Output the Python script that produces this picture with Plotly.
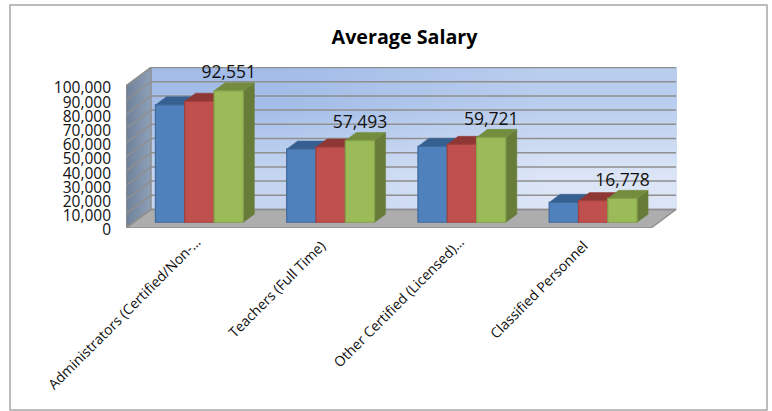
import plotly.graph_objects as go

categories = ["Administrators (Certified/Non-…", "Teachers (Full Time)",
              "Other Certified (Licensed)…", "Classified Personnel"]
series_names = ["Series 1", "Series 2", "Series 3"]
series_a = [82600, 51500, 53400, 14000]
series_b = [85200, 52900, 54800, 15200]
series_c = [92551, 57493, 59721, 16778]
tick_values = [0, 10000, 20000, 30000, 40000, 50000, 60000, 70000, 80000, 90000, 100000]

front_colors = ["#4f81bd", "#c0504d", "#9bbb59"]
line_colors = ["#40699c", "#a2403d", "#84a04a"]
top_colors = ["#376092", "#8e3735", "#738c3e"]
side_colors = ["#385d8a", "#7f3230", "#667c38"]

W, H = 772, 411
L, R, T, B = 126, 677, 67, 228
PX_CAT = 131.25
PX_VAL = 1.42 / 1000
DX = 25 / PX_CAT
DY = 18.5 / PX_VAL
XMAX = (R - L) / PX_CAT
YMAX = (B - T) / PX_VAL
BAR_W = 29.3 / PX_CAT
Z0, Z1 = 0.31, 0.75
FONT = "Open Sans"
GRID = "#8f8f8f"


def proj(x, v, z):
    return x + z * DX, v + z * DY


def poly(points):
    xs, ys = zip(*points)
    return list(xs) + [xs[0]], list(ys) + [ys[0]]


fig = go.Figure()

# back wall with diagonal gradient; cell centres chosen so the cells fill the wall exactly
wall_w = XMAX - DX
wall_h = YMAX - DY
fig.add_trace(go.Heatmap(x=[DX + wall_w / 4, DX + 3 * wall_w / 4],
                         y=[DY + wall_h / 4, DY + 3 * wall_h / 4],
                         z=[[0.6, 1.0], [0.0, 0.4]],
                         zsmooth="best", zmin=0, zmax=1, showscale=False, hoverinfo="skip",
                         colorscale=[[0, "#a3bde8"], [1, "#dbe5f6"]]))

# left wall
xs, ys = poly([proj(0, 0, 0), proj(0, 0, 1), proj(0, 100000, 1), proj(0, 100000, 0)])
fig.add_trace(go.Scatter(x=xs, y=ys, mode="lines", fill="toself", hoverinfo="skip", showlegend=False,
                         line=dict(color=GRID, width=1.5), cliponaxis=False,
                         fillgradient=dict(type="horizontal",
                                           colorscale=[[0, "#6f8099"], [1, "#8fa0b9"]])))

# floor
xs, ys = poly([proj(0, 0, 0), proj(len(categories), 0, 0), proj(len(categories), 0, 1), proj(0, 0, 1)])
fig.add_trace(go.Scatter(x=xs, y=ys, mode="lines", fill="toself", fillcolor="#adadad",
                         hoverinfo="skip", showlegend=False, cliponaxis=False,
                         line=dict(color=GRID, width=1.5)))

# gridlines: one segment on the left wall, one on the back wall
gx, gy = [], []
for v in tick_values:
    a, b, c = proj(0, v, 0), proj(0, v, 1), proj(len(categories), v, 1)
    gx += [a[0], b[0], c[0], None]
    gy += [a[1], b[1], c[1], None]
fig.add_trace(go.Scatter(x=gx, y=gy, mode="lines", hoverinfo="skip", showlegend=False, cliponaxis=False,
                         line=dict(color=GRID, width=1.5)))

all_series = [series_a, series_b, series_c]

# top and side faces of the boxes, back to front
for s, values in enumerate(all_series):
    for c, v in enumerate(values):
        x0 = c + 0.5 + (s - 1.5) * BAR_W
        x1 = x0 + BAR_W
        base = 0
        xs, ys = poly([proj(x1, base, Z0), proj(x1, base, Z1), proj(x1, v, Z1), proj(x1, v, Z0)])
        fig.add_trace(go.Scatter(x=xs, y=ys, mode="lines", fill="toself", fillcolor=side_colors[s],
                                 line=dict(color=side_colors[s], width=0.5),
                                 hoverinfo="skip", showlegend=False))
        xs, ys = poly([proj(x0, v, Z0), proj(x1, v, Z0), proj(x1, v, Z1), proj(x0, v, Z1)])
        fig.add_trace(go.Scatter(x=xs, y=ys, mode="lines", fill="toself", fillcolor=top_colors[s],
                                 line=dict(color=top_colors[s], width=0.5),
                                 hoverinfo="skip", showlegend=False))

# front faces
centers = [c + 0.5 + Z0 * DX for c in range(len(categories))]
for s, values in enumerate(all_series):
    fig.add_trace(go.Bar(x=centers, y=values, base=[Z0 * DY] * len(values), name=series_names[s],
                         width=BAR_W, offset=(s - 1.5) * BAR_W, xaxis="x2", yaxis="y2",
                         marker=dict(color=front_colors[s], line=dict(color=line_colors[s], width=1.2)),
                         showlegend=False))

# value labels above the third series
fig.add_trace(go.Scatter(x=[c + BAR_W for c in centers],
                         y=[v + Z1 * DY for v in series_c],
                         text=[f"{v:,}" for v in series_c], mode="text", textposition="top center",
                         textfont=dict(family=FONT, size=17.5, color="#111111"),
                         xaxis="x2", yaxis="y2", hoverinfo="skip", showlegend=False, cliponaxis=False))

cat_font = dict(family=FONT, size=14, color="#111111")
fig.update_layout(
    width=W, height=H, autosize=False,
    margin=dict(l=L, r=W - R, t=T, b=H - B, pad=0),
    paper_bgcolor="white", plot_bgcolor="white", showlegend=False,
    title=dict(text="<b>Average Salary</b>", x=404.5 / W, y=1 - 37 / H, xanchor="center", yanchor="middle",
               font=dict(family=FONT, size=19.7, color="black")),
    # the short category labels sit on the main axis, the two long ones on the overlaid axis
    xaxis=dict(range=[0, XMAX], tickmode="array",
               tickvals=[1.5 - 1.5 / PX_CAT, 3.5 - 1.5 / PX_CAT],
               ticktext=[categories[1], categories[3]], tickangle=-45,
               showgrid=False, zeroline=False, showline=False,
               ticks="", ticklabelstandoff=6, tickfont=cat_font),
    yaxis=dict(range=[0, YMAX], tickmode="array", tickvals=tick_values,
               ticktext=[f"{v:,}" for v in tick_values], showgrid=False, zeroline=False, showline=False,
               ticks="", ticklabelstandoff=14, ticklabelshift=2,
               tickfont=dict(family=FONT, size=15.5, color="#111111")),
    xaxis2=dict(range=[0, XMAX], overlaying="x", anchor="y2", side="bottom", tickmode="array",
                tickvals=[0.5 + 5 / PX_CAT, 2.5 + 6 / PX_CAT],
                ticktext=[categories[0], categories[2]], tickangle=-45,
                showgrid=False, zeroline=False, showline=False,
                ticks="", ticklabelstandoff=2, tickfont=cat_font),
    yaxis2=dict(range=[0, YMAX], overlaying="y", visible=False),
    shapes=[dict(type="rect", xref="paper", yref="paper",
                 x0=(10 - L) / (R - L), x1=(767 - L) / (R - L),
                 y0=(B - 410) / (B - T), y1=(B - 5) / (B - T),
                 line=dict(color="#a6a6a6", width=1.5), layer="below")],
)

fig.write_html("out.html", config={"displayModeBar": False},
               post_script="document.body.style.margin='0';document.documentElement.style.overflow='hidden';")
